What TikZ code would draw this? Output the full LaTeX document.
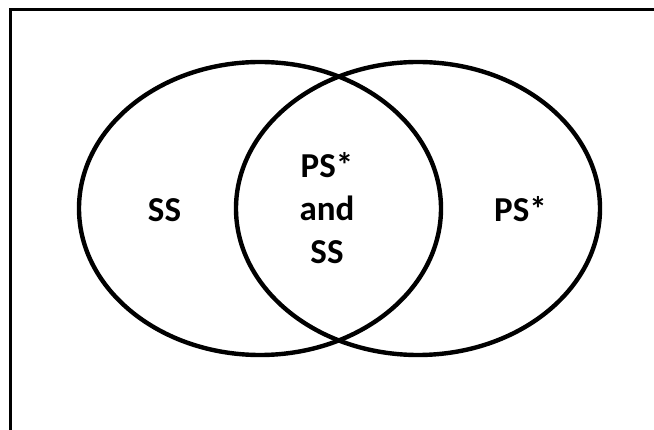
\documentclass[tikz,border=0pt]{standalone}
\usepackage{fontspec}
\setmainfont{Carlito}
\begin{document}
\begin{tikzpicture}[x=1pt,y=-1pt,
  setline/.style={line width=4.4pt},
  label/.style={font=\bfseries\fontsize{35}{43}\selectfont, align=center, anchor=base, inner sep=0pt}]
\useasboundingbox (0,0) rectangle (654,430);
% open frame: top and left edges
\draw[line width=3.2pt] (10.8,431) -- (10.8,9.2) -- (655,9.2);
% the two sets
\draw[setline] (260,208.5) ellipse [x radius=181pt, y radius=146.5pt];
\draw[setline] (418,208.5) ellipse [x radius=182pt, y radius=146.5pt];
% region labels (base anchor sits on the last line)
\node[label] (ss) at (164.5,222) {SS};
\node[label] (both) at (327,264) {PS*\\and\\SS};
\node[label] (ps) at (520.5,222) {PS*};
\end{tikzpicture}
\end{document}
